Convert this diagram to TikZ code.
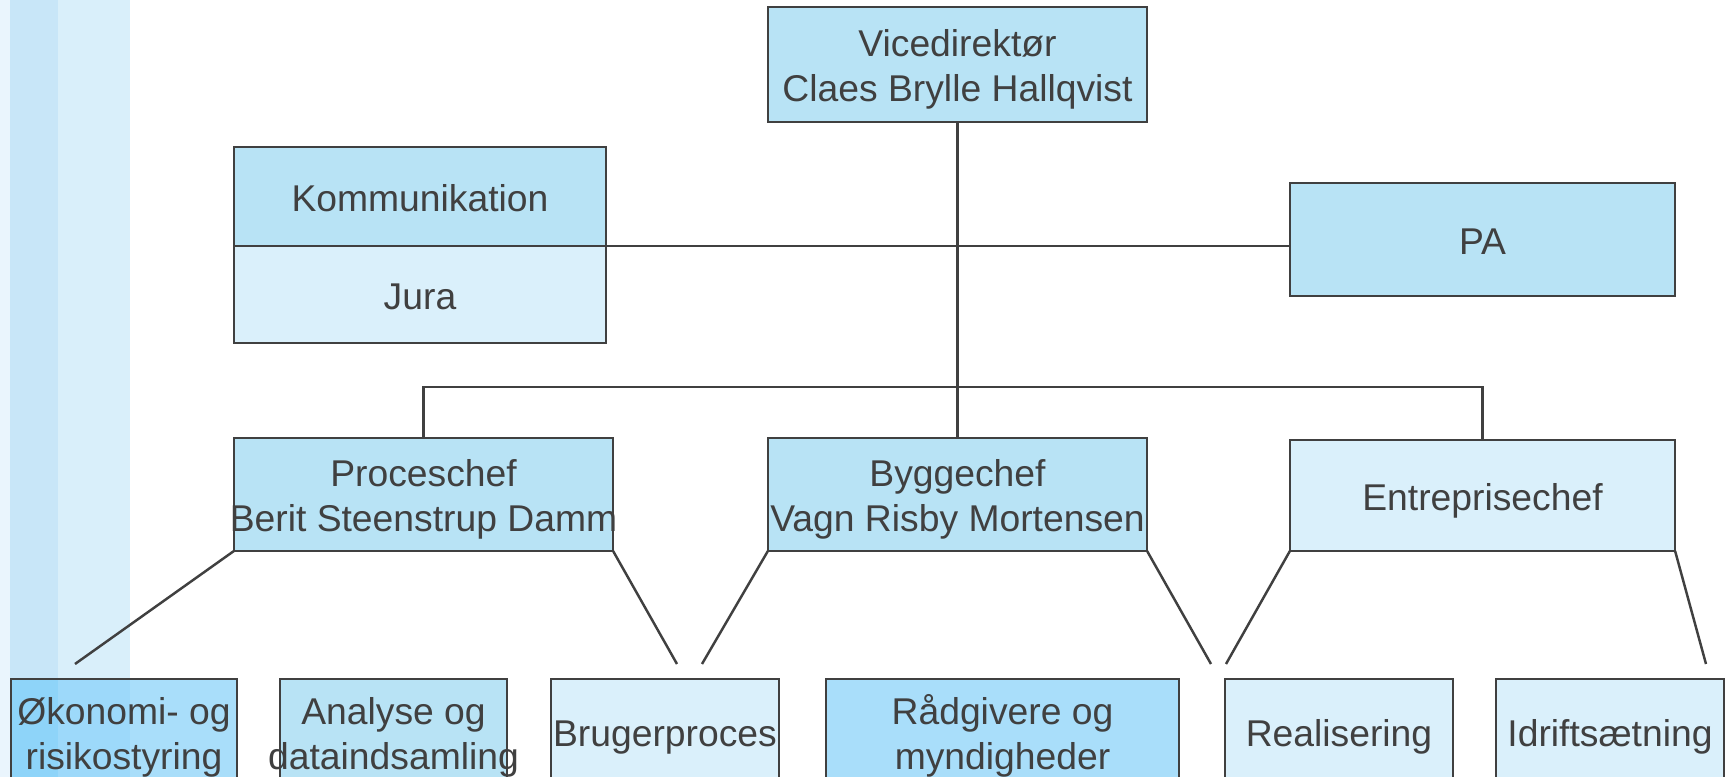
\documentclass[tikz,border=0pt]{standalone}
\usepackage{fontspec}
\setmainfont{Liberation Sans}
\definecolor{ink}{HTML}{404040}
\definecolor{midblue}{HTML}{B8E3F5}
\definecolor{lightblue}{HTML}{DAF0FB}
\definecolor{strongblue}{HTML}{A9DEFA}
\definecolor{stripeA}{HTML}{EAF5FD}
\definecolor{stripeB}{HTML}{C8E6F8}
\definecolor{stripeC}{HTML}{D9EFFA}
\definecolor{okA}{HTML}{8ED4F9}
\definecolor{okB}{HTML}{9DD9FA}
\newcommand{\ctext}[1]{\makebox[0pt][c]{\raisebox{-0.02cm}[0.943em][0.25em]{#1}}}
\tikzset{
  orgbox/.style={draw=ink, line width=0.7pt, inner sep=0pt, outer sep=0pt,
    align=center, text=ink, font=\fontsize{10.6}{12.8}\selectfont},
  link/.style={draw=ink, line width=0.7pt}
}
\begin{document}
\begin{tikzpicture}[x=0.01cm, y=-0.01cm]
\useasboundingbox (0,0) rectangle (1729,777);
\clip (0,0) rectangle (1729,777);
% background stripes
\fill[stripeA] (0,0) rectangle (10,777);
\fill[stripeB] (10,0) rectangle (58,777);
\fill[stripeC] (58,0) rectangle (130,777);
% top
\node[orgbox, fill=midblue, minimum width=3.79cm, minimum height=1.15cm] (vd) at (957.5,64.5)
  {\ctext{Vicedirektør}\\\ctext{Claes Brylle Hallqvist}};
\node[orgbox, fill=midblue, minimum width=3.72cm, minimum height=0.99cm] (kom) at (420,196.5)
  {\ctext{Kommunikation}};
\node[orgbox, fill=lightblue, minimum width=3.72cm, minimum height=0.97cm] (jura) at (420,294.5)
  {\ctext{Jura}};
\node[orgbox, fill=midblue, minimum width=3.85cm, minimum height=1.13cm] (pa) at (1482.5,239.5)
  {\ctext{PA}};
% chiefs
\node[orgbox, fill=midblue, minimum width=3.79cm, minimum height=1.13cm] (pc) at (423.5,494.5)
  {\ctext{Proceschef}\\\ctext{Berit Steenstrup Damm}};
\node[orgbox, fill=midblue, minimum width=3.79cm, minimum height=1.13cm] (bc) at (957.5,494.5)
  {\ctext{Byggechef}\\\ctext{Vagn Risby Mortensen}};
\node[orgbox, fill=lightblue, minimum width=3.85cm, minimum height=1.11cm] (ec) at (1482.5,495.5)
  {\ctext{Entreprisechef}};
% bottom row
\fill[strongblue] (130,679) rectangle (237,785);
\fill[okB] (58,679) rectangle (130,785);
\fill[okA] (11,679) rectangle (58,785);
\node[orgbox, minimum width=2.26cm, minimum height=1.06cm] (ok) at (124,732)
  {\ctext{Økonomi- og}\\\ctext{risikostyring}};
\node[orgbox, fill=midblue, minimum width=2.27cm, minimum height=1.06cm] (an) at (393.5,732)
  {\ctext{Analyse og}\\\ctext{dataindsamling}};
\node[orgbox, fill=lightblue, minimum width=2.28cm, minimum height=1.06cm] (bp) at (665,732)
  {\ctext{Brugerproces}};
\node[orgbox, fill=strongblue, minimum width=3.53cm, minimum height=1.06cm] (rg) at (1002.5,732)
  {\ctext{Rådgivere og}\\\ctext{myndigheder}};
\node[orgbox, fill=lightblue, minimum width=2.28cm, minimum height=1.06cm] (re) at (1339,732)
  {\ctext{Realisering}};
\node[orgbox, fill=lightblue, minimum width=2.28cm, minimum height=1.06cm] (id) at (1610,732)
  {\ctext{Idriftsætning}};
% connectors
\coordinate (bus) at (957.5,387);
\draw[link] (kom.south east) -- (kom.south east -| pa.west);
\draw[link] (vd.south) -- (bc.north);
\draw[link] (pc.north) -- (pc.north |- bus) -- (ec.north |- bus) -- (ec.north);
\coordinate (e1) at (75,664);
\coordinate (e2) at (677,664);
\coordinate (e3) at (702,664);
\coordinate (e4) at (1211,664);
\coordinate (e5) at (1226,664);
\coordinate (e6) at (1706,664);
\draw[link] (pc.south west) -- (e1);
\draw[link] (pc.south east) -- (e2);
\draw[link] (bc.south west) -- (e3);
\draw[link] (bc.south east) -- (e4);
\draw[link] (ec.south west) -- (e5);
\draw[link] (ec.south east) -- (e6);
\end{tikzpicture}
\end{document}
